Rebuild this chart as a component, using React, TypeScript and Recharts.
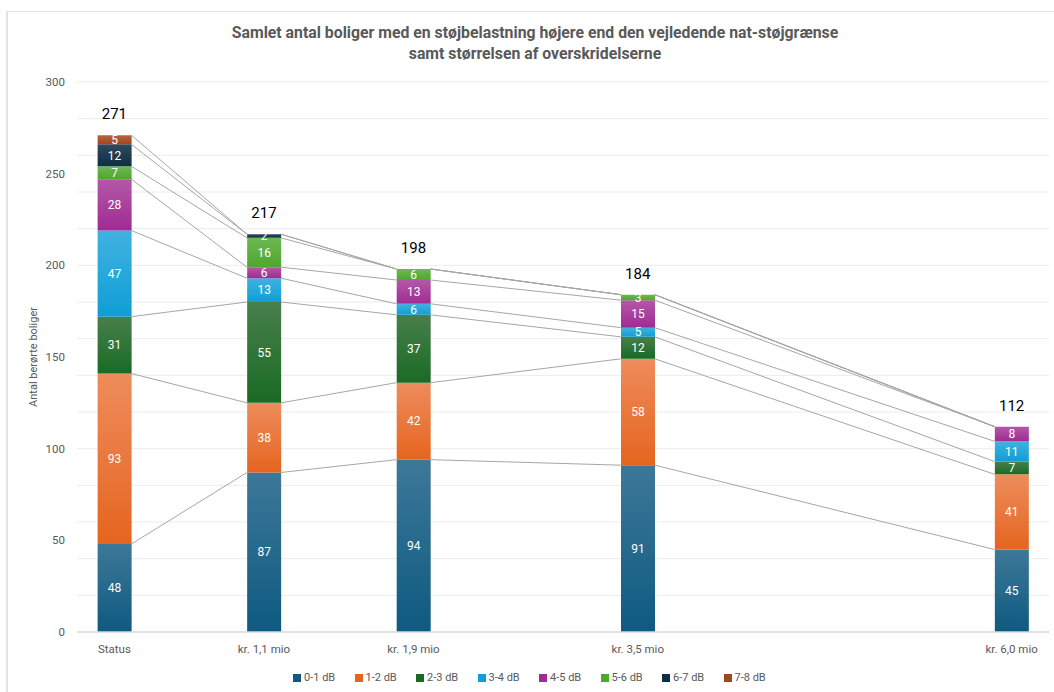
import React from 'react';
import { ComposedChart, Bar, Line, XAxis, YAxis, CartesianGrid, LabelList, Label } from 'recharts';

const categories = ['Status', 'kr. 1,1 mio', 'kr. 1,9 mio', 'kr. 3,5 mio', 'kr. 6,0 mio'];
const xPositions = [0, 1, 2, 3.5, 6];

const seriesNames = ['0-1 dB', '1-2 dB', '2-3 dB', '3-4 dB', '4-5 dB', '5-6 dB', '6-7 dB', '7-8 dB'];
const s01 = [48, 87, 94, 91, 45];
const s12 = [93, 38, 42, 58, 41];
const s23 = [31, 55, 37, 12, 7];
const s34 = [47, 13, 6, 5, 11];
const s45 = [28, 6, 13, 15, 8];
const s56 = [7, 16, 6, 3, 0];
const s67 = [12, 2, 0, 0, 0];
const s78 = [5, 0, 0, 0, 0];
const seriesValues = [s01, s12, s23, s34, s45, s56, s67, s78];

const colors = ['#0E5A80', '#E5651F', '#196B24', '#0F9ED5', '#A02B93', '#4EA72E', '#0E2E45', '#A5441A'];
const topColors = ['#3D7898', '#EE8C5C', '#487F4C', '#40B2E0', '#B358A8', '#6DB852', '#2E4A5E', '#B56640'];

const yTicks = [0, 50, 100, 150, 200, 250, 300];
const gridValues = [10, 20, 30, 40, 50, 60, 70, 80, 90, 100, 110, 120, 130, 140, 150, 160, 170, 180, 190, 200, 210, 220, 230, 240, 250, 260, 270, 280, 290, 300];

const W = 1054;
const H = 692;
const X_DOMAIN = [-0.25, 6.25];
const BAR_SIZE = 34;
const PLOT_LEFT = 77;
const PLOT_RIGHT = 1049;
const halfBar = (BAR_SIZE / 2) / ((PLOT_RIGHT - PLOT_LEFT) / (X_DOMAIN[1] - X_DOMAIN[0]));

const keys = seriesNames.map((_, i) => 's' + i);

const data = categories.map((c, i) => {
  const row: any = { x: xPositions[i], name: c };
  let total = 0;
  seriesValues.forEach((arr, k) => {
    row[keys[k]] = arr[i];
    total += arr[i];
  });
  row.total = total;
  return row;
});

// cumulative boundaries for series lines
const cumulative = seriesValues.map((_, k) =>
  categories.map((_, i) => seriesValues.slice(0, k + 1).reduce((a, arr) => a + arr[i], 0))
);

const lineData = cumulative.map((cum) => {
  const pts: any[] = [];
  for (let i = 0; i < xPositions.length - 1; i++) {
    pts.push({ lx: xPositions[i] + halfBar, y: cum[i] });
    pts.push({ lx: xPositions[i + 1] - halfBar, y: cum[i + 1] });
    pts.push({ lx: xPositions[i + 1], y: null });
  }
  return pts;
});

const FONT = 'Roboto, "Open Sans", sans-serif';
const GRAY = '#595959';

const tickLabel = (v: number) => {
  const idx = xPositions.indexOf(v);
  return idx >= 0 ? categories[idx] : '';
};

const renderSegLabel = (props: any) => {
  const { x, y, width, height, value } = props;
  if (value === null || value === undefined) return null;
  return (
    <text x={x + width / 2} y={y + height / 2} dy="0.35em" textAnchor="middle" fill="#ffffff" fontSize={12} fontFamily={FONT}>
      {value}
    </text>
  );
};

export default function App() {
  return (
    <div style={{ position: 'absolute', left: 0, top: 0, width: W, height: H, background: '#fff', fontFamily: FONT, overflow: 'hidden' }}>
      <div style={{ position: 'absolute', left: 6, top: 11, width: W + 20, height: H + 20, borderLeft: '2px solid #e3e3e3', borderTop: '1px solid #e3e3e3' }} />
      <div style={{ position: 'absolute', left: 0, top: 22, width: 1070, textAlign: 'center', color: GRAY, fontWeight: 700, fontSize: 15.8, lineHeight: '21px' }}>
        <div>Samlet antal boliger med en støjbelastning højere end den vejledende nat-støjgrænse</div>
        <div>samt størrelsen af overskridelserne</div>
      </div>
      <div style={{ position: 'absolute', left: 0, top: 0 }}>
        <ComposedChart width={W} height={H} data={data} margin={{ top: 82, right: W - PLOT_RIGHT, bottom: 30, left: 0 }}>
          <defs>
            {colors.map((c, i) => (
              <linearGradient key={i} id={'g' + i} x1="0" y1="0" x2="0" y2="1">
                <stop offset="0%" stopColor={topColors[i]} />
                <stop offset="100%" stopColor={c} />
              </linearGradient>
            ))}
          </defs>
          <CartesianGrid vertical={false} horizontalValues={gridValues} stroke="#ececec" />
          <XAxis
            xAxisId="main"
            dataKey="x"
            type="number"
            domain={X_DOMAIN}
            allowDataOverflow
            ticks={xPositions}
            tickFormatter={tickLabel}
            tickLine={false}
            axisLine={{ stroke: '#d9d9d9', strokeWidth: 1.5 }}
            tick={{ fill: GRAY, fontSize: 11.5, fontFamily: FONT }}
            tickMargin={7}
            interval={0}
            height={30}
          />
          <XAxis xAxisId="lines" dataKey="lx" type="number" domain={X_DOMAIN} allowDataOverflow hide height={0} />
          <YAxis
            type="number"
            domain={[0, 300]}
            ticks={yTicks}
            width={PLOT_LEFT}
            tickLine={false}
            axisLine={false}
            tick={{ fill: GRAY, fontSize: 11.5, fontFamily: FONT }}
            tickMargin={6}
          >
            <Label
              content={(props: any) => {
                const vb = props.viewBox || {};
                const cy = (vb.y || 82) + (vb.height || 550) / 2;
                return (
                  <text x={37} y={cy} transform={`rotate(-90, 37, ${cy})`} textAnchor="middle" fill={GRAY} fontSize={11} fontFamily={FONT}>
                    Antal berørte boliger
                  </text>
                );
              }}
            />
          </YAxis>
          {keys.map((k, i) => (
            <Bar key={k} xAxisId="main" dataKey={k} name={seriesNames[i]} stackId="a" fill={`url(#g${i})`} barSize={BAR_SIZE} isAnimationActive={false}>
              <LabelList dataKey={k} content={renderSegLabel} />
            </Bar>
          ))}
          {lineData.map((ld, i) => (
            <Line
              key={'l' + i}
              xAxisId="lines"
              data={ld}
              dataKey="y"
              type="linear"
              stroke="#a6a6a6"
              strokeWidth={1}
              dot={false}
              activeDot={false}
              connectNulls={false}
              legendType="none"
              isAnimationActive={false}
            />
          ))}
          <Line xAxisId="main" dataKey="total" stroke="none" dot={false} activeDot={false} legendType="none" isAnimationActive={false}>
            <LabelList dataKey="total" position="top" offset={16} fill="#000" fontSize={15} fontFamily={FONT} />
          </Line>
        </ComposedChart>
      </div>
      <div style={{ position: 'absolute', left: 293, top: 671, display: 'flex', color: GRAY, fontSize: 11, fontFamily: FONT }}>
        {seriesNames.map((n, i) => (
          <div key={n} style={{ width: 61.5, display: 'flex', alignItems: 'center' }}>
            <span style={{ display: 'inline-block', width: 8, height: 8, background: colors[i], marginRight: 3 }} />
            <span>{n}</span>
          </div>
        ))}
      </div>
    </div>
  );
}
